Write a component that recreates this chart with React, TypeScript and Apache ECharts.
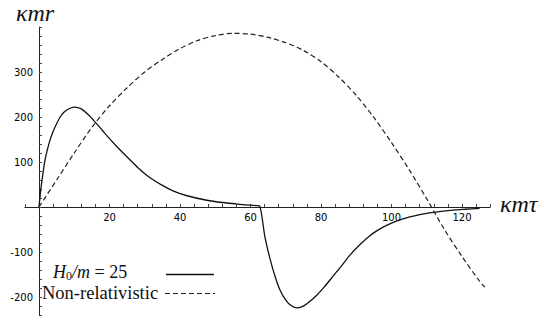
import React, { useEffect, useRef } from "react";
import * as echarts from "echarts";

const solidX = [0, 0.5, 1, 1.7, 2.4, 3.1, 4, 5, 6, 7, 8, 9, 10, 11, 12, 14, 16, 18, 20, 22, 25, 28, 31.5, 35, 38, 42, 47.6, 52, 57, 60, 62, 62.6, 63, 63.5, 64.1, 65.5, 67, 68.4, 70, 71.5, 73, 74.5, 76, 78.8, 81, 83.5, 86, 88.2, 91, 93.5, 95.8, 98.6, 103, 108, 112, 117.5, 121, 125];
const solidY = [0, 38, 68, 104, 128, 148, 168, 185, 200, 210, 216, 220, 222, 221, 218, 205, 188, 170, 152, 135, 111, 88, 65, 48, 36, 25, 15, 10, 6, 4, 3, 2, -10, -35, -67, -114, -155, -185, -207, -219, -224, -222, -215, -196, -177, -153, -129, -107, -84, -66, -53, -41, -27, -17, -12, -7, -5, -3];

const dashedX = [0, 5, 10, 15, 20, 25, 30, 35, 40, 45, 50, 55, 60, 65, 70, 75, 80, 85, 90, 95, 100, 105, 110, 115, 120, 125, 126.5];
const dashedY = [0, 60, 120, 177, 225, 265, 300, 328, 352, 370, 381, 386, 384, 377, 365, 348, 323, 289, 248, 199, 143, 83, 18, -50, -110, -165, -178];

const xTickLabels = [20, 40, 60, 80, 100, 120];
const yTickLabels = [-200, -100, 100, 200, 300];

const seriesNames = ["H0/m = 25", "Non-relativistic"];

export default function App() {
  const ref = useRef<HTMLDivElement>(null);
  useEffect(() => {
    document.body.style.margin = "0";
    const chart = echarts.init(ref.current!, null, { renderer: "svg" });
    const solid = solidX.map((x, i) => [x, solidY[i]]);
    const dashed = dashedX.map((x, i) => [x, dashedY[i]]);
    const tickFont = { fontFamily: "DejaVu Sans", fontSize: 10, color: "#000" };
    chart.setOption({
      animation: false,
      backgroundColor: "#fff",
      grid: { left: 24.9, top: 27, width: 465.3, height: 288, containLabel: false, outerBoundsMode: "none" },
      xAxis: {
        type: "value",
        min: -4,
        max: 128,
        interval: 4,
        position: "bottom",
        offset: -108,
        axisLine: { onZero: false, lineStyle: { color: "#222", width: 1 } },
        axisTick: { show: true, inside: true, length: 3, lineStyle: { color: "#444" } },
        axisLabel: {
          ...tickFont,
          margin: 5,
          formatter: (v: number) => (xTickLabels.includes(v) ? String(v) : ""),
        },
        splitLine: { show: false },
      },
      yAxis: {
        type: "value",
        min: -240,
        max: 400,
        interval: 20,
        position: "left",
        offset: -14.1,
        axisLine: { onZero: false, lineStyle: { color: "#222", width: 1 } },
        axisTick: { show: true, inside: true, length: 3, lineStyle: { color: "#444" } },
        axisLabel: {
          ...tickFont,
          margin: 6,
          formatter: (v: number) => (yTickLabels.includes(v) ? String(v) : ""),
        },
        splitLine: { show: false },
      },
      series: [
        {
          name: seriesNames[0],
          type: "line",
          data: solid,
          showSymbol: false,
          smooth: 0.3,
          lineStyle: { color: "#111", width: 1.3 },
        },
        {
          name: seriesNames[1],
          type: "line",
          data: dashed,
          showSymbol: false,
          smooth: 0.3,
          lineStyle: { color: "#222", width: 1.2, type: [5, 3] },
        },
      ],
      graphic: [
        {
          type: "text",
          left: 16,
          top: 1,
          style: { text: "κmr", font: "italic 24px 'Liberation Serif'", fill: "#111" },
        },
        {
          type: "text",
          left: 500,
          top: 192,
          style: { text: "κmτ", font: "italic 24px 'Liberation Serif'", fill: "#111" },
        },
        {
          type: "text",
          left: 53,
          top: 263,
          style: {
            text: "{i|H}{s|0}{i|/m}{n| = 25}",
            rich: {
              i: { font: "italic 18px 'Liberation Serif'", fill: "#111" },
              s: { font: "12px 'Liberation Serif'", fill: "#111", padding: [8, 0, 0, 0] },
              n: { font: "18px 'Liberation Serif'", fill: "#111" },
            },
          },
        },
        {
          type: "text",
          left: 42,
          top: 283,
          style: { text: "Non-relativistic", font: "18.5px 'Liberation Serif'", fill: "#111" },
        },
        {
          type: "line",
          shape: { x1: 166, y1: 274.5, x2: 214, y2: 274.5 },
          style: { stroke: "#111", lineWidth: 1.3 },
        },
        {
          type: "line",
          shape: { x1: 165, y1: 293.5, x2: 215, y2: 293.5 },
          style: { stroke: "#222", lineWidth: 1.2, lineDash: [5, 3] },
        },
      ],
    });
    return () => chart.dispose();
  }, []);
  return <div ref={ref} style={{ position: "absolute", left: 0, top: 0, width: 550, height: 321 }} />;
}
